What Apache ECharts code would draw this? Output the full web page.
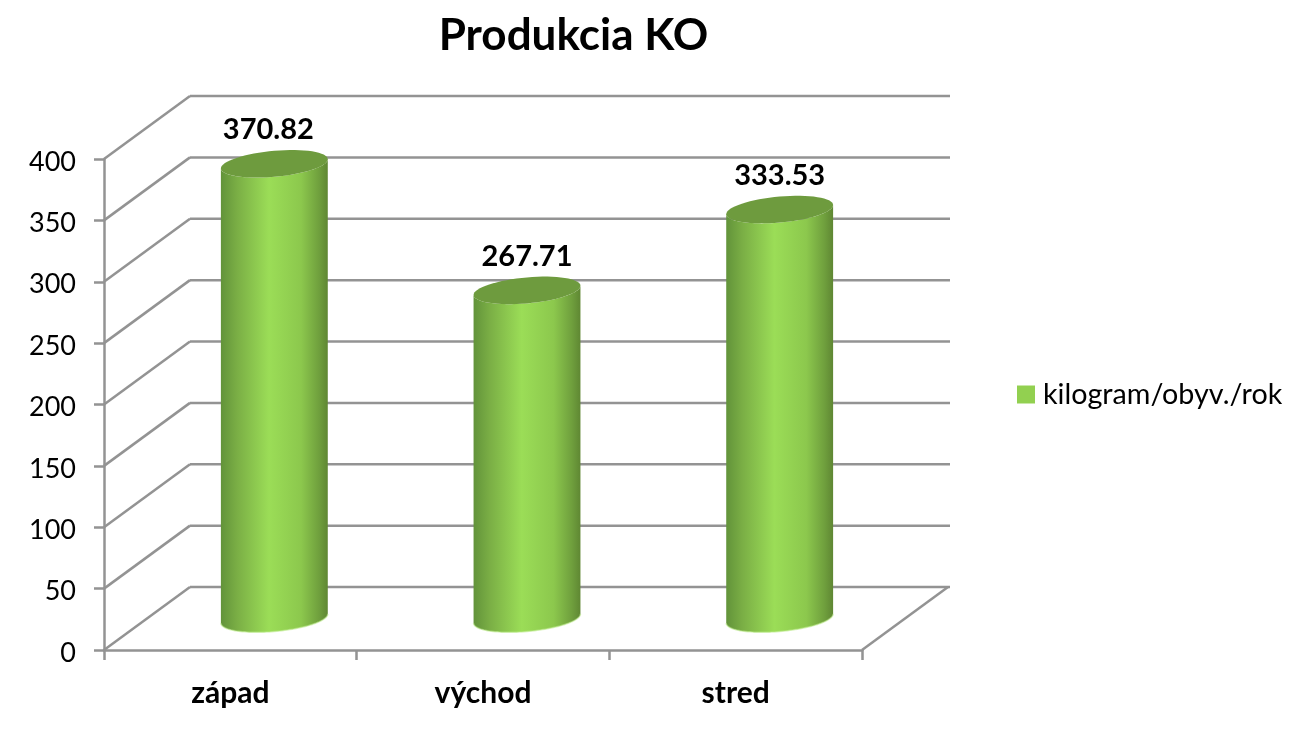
<!DOCTYPE html>
<html><head><meta charset="utf-8">
<style>html,body{margin:0;padding:0;background:#fff}#c{width:1296px;height:736px}</style>
<script src="https://cdn.jsdelivr.net/npm/echarts@6/dist/echarts.min.js"></script>
</head><body><div id="c"></div>
<script>
const titleText = 'Produkcia KO';
const seriesName = 'kilogram/obyv./rok';
const categories = ['západ', 'východ', 'stred'];
const values = [370.82, 267.71, 333.53];
const tickValues = [0, 50, 100, 150, 200, 250, 300, 350, 400];

const FONT = 'Lato';
const GRID_COLOR = '#939393';
const LINE_W = 2.5;
const DEPTH_X = 86, DEPTH_Y = 63;
const LABEL_NUDGE = [-6, 0, 0];

const chart = echarts.init(document.getElementById('c'), null, {renderer: 'canvas'});

function wallItem(params, api) {
  const cs = params.coordSys;
  const p = api.coord([0, api.value(1)]);
  const y = p[1];
  const x0 = cs.x, x1 = cs.x + cs.width;
  const lineStyle = {stroke: GRID_COLOR, lineWidth: LINE_W, fill: null};
  const children = [
    {type: 'line', shape: {x1: x0, y1: y, x2: x0 + DEPTH_X, y2: y - DEPTH_Y}, style: lineStyle},
    {type: 'line', shape: {x1: x0 + DEPTH_X, y1: y - DEPTH_Y, x2: x1 + DEPTH_X + 2, y2: y - DEPTH_Y}, style: lineStyle}
  ];
  if (api.value(1) === 0) {
    children.push({type: 'line', shape: {x1: x1, y1: y, x2: x1 + DEPTH_X, y2: y - DEPTH_Y}, style: lineStyle});
  }
  return {type: 'group', children};
}

function arc(cx, cy, a, t0, t1) {
  const pts = [];
  const n = 64;
  const b = 13, s = 4.6;
  for (let i = 0; i <= n; i++) {
    const t = t0 + (t1 - t0) * i / n;
    pts.push([cx + a * Math.cos(t), cy + b * Math.sin(t) - s * Math.cos(t)]);
  }
  return pts;
}

function barItem(params, api) {
  const idx = params.dataIndex;
  const base = api.coord([api.value(0), 0]);
  const top = api.coord([api.value(0), api.value(1)]);
  const a = api.size([1, 0])[0] * 0.2115;
  const cx = base[0] + DEPTH_X / 2 + 1;
  const cyB = base[1] - DEPTH_Y / 2;
  const cyT = top[1] - DEPTH_Y / 2 + 0.5;
  const bottom = arc(cx, cyB, a, 0, Math.PI);
  const upper = arc(cx, cyT, a, Math.PI, 0);
  const body = bottom.concat(upper);
  const cap = arc(cx, cyT, a, 0, Math.PI * 2);
  const rim = arc(cx, cyB, a, 0, Math.PI);
  return {type: 'group', children: [
    {type: 'polygon', shape: {points: body}, style: {
      fill: new echarts.graphic.LinearGradient(0, 0, 1, 0, [
        {offset: 0, color: '#62933a'},
        {offset: 0.15, color: '#7aae45'},
        {offset: 0.45, color: '#9bdd57'},
        {offset: 0.75, color: '#8cc84d'},
        {offset: 0.92, color: '#6f9f3d'},
        {offset: 1, color: '#5f8733'}
      ])
    }},
    {type: 'polyline', shape: {points: rim}, style: {
      stroke: 'rgba(190,235,140,0.55)', lineWidth: 1.5, fill: null
    }},
    {type: 'polygon', shape: {points: cap}, style: {fill: '#6e9b3e'}},
    {type: 'text', x: cx + LABEL_NUDGE[idx], y: cyT - 34, style: {
      text: api.value(1).toFixed(2), fill: '#000', font: 'bold 29px ' + FONT,
      align: 'center', verticalAlign: 'middle'
    }}
  ]};
}

chart.setOption({
  animation: false,
  backgroundColor: '#fff',
  title: {
    text: titleText, left: 568.5, top: 9, textAlign: 'center',
    textStyle: {fontFamily: FONT, fontWeight: 'bold', fontSize: 44, color: '#000'}
  },
  legend: {
    data: [{name: seriesName, icon: 'rect', itemStyle: {color: '#92d050'}}],
    left: 1012, top: 375, itemWidth: 18, itemHeight: 18, itemGap: 8,
    textStyle: {fontFamily: FONT, fontSize: 28.7, color: '#000', padding: [0, 0, 0, 3]}
  },
  grid: {left: 104, right: 434, top: 159, bottom: 86, containLabel: false},
  xAxis: {
    type: 'category', data: categories,
    axisLine: {lineStyle: {color: GRID_COLOR, width: LINE_W}},
    axisTick: {show: true, alignWithLabel: false, length: 10, lineStyle: {color: GRID_COLOR, width: LINE_W}},
    axisLabel: {fontFamily: FONT, fontWeight: 'bold', fontSize: 30, color: '#000', margin: 28}
  },
  yAxis: {
    type: 'value', min: 0, max: 400, interval: 50,
    axisLine: {show: true, lineStyle: {color: GRID_COLOR, width: LINE_W}},
    axisTick: {show: true, length: 10, lineStyle: {color: GRID_COLOR, width: LINE_W}},
    axisLabel: {fontFamily: FONT, fontSize: 27, color: '#000', margin: 28, verticalAlign: 'top', lineHeight: 6},
    splitLine: {show: false}
  },
  series: [
    {type: 'custom', name: '_wall', silent: true, clip: false, z: 1,
     data: tickValues.map(v => [0, v]), renderItem: wallItem,
     encode: {x: 0, y: 1}},
    {type: 'custom', name: seriesName, silent: true, clip: false, z: 3,
     itemStyle: {color: '#92d050'},
     data: values.map((v, i) => [i, v]), renderItem: barItem,
     encode: {x: 0, y: 1}}
  ]
});
</script></body></html>
